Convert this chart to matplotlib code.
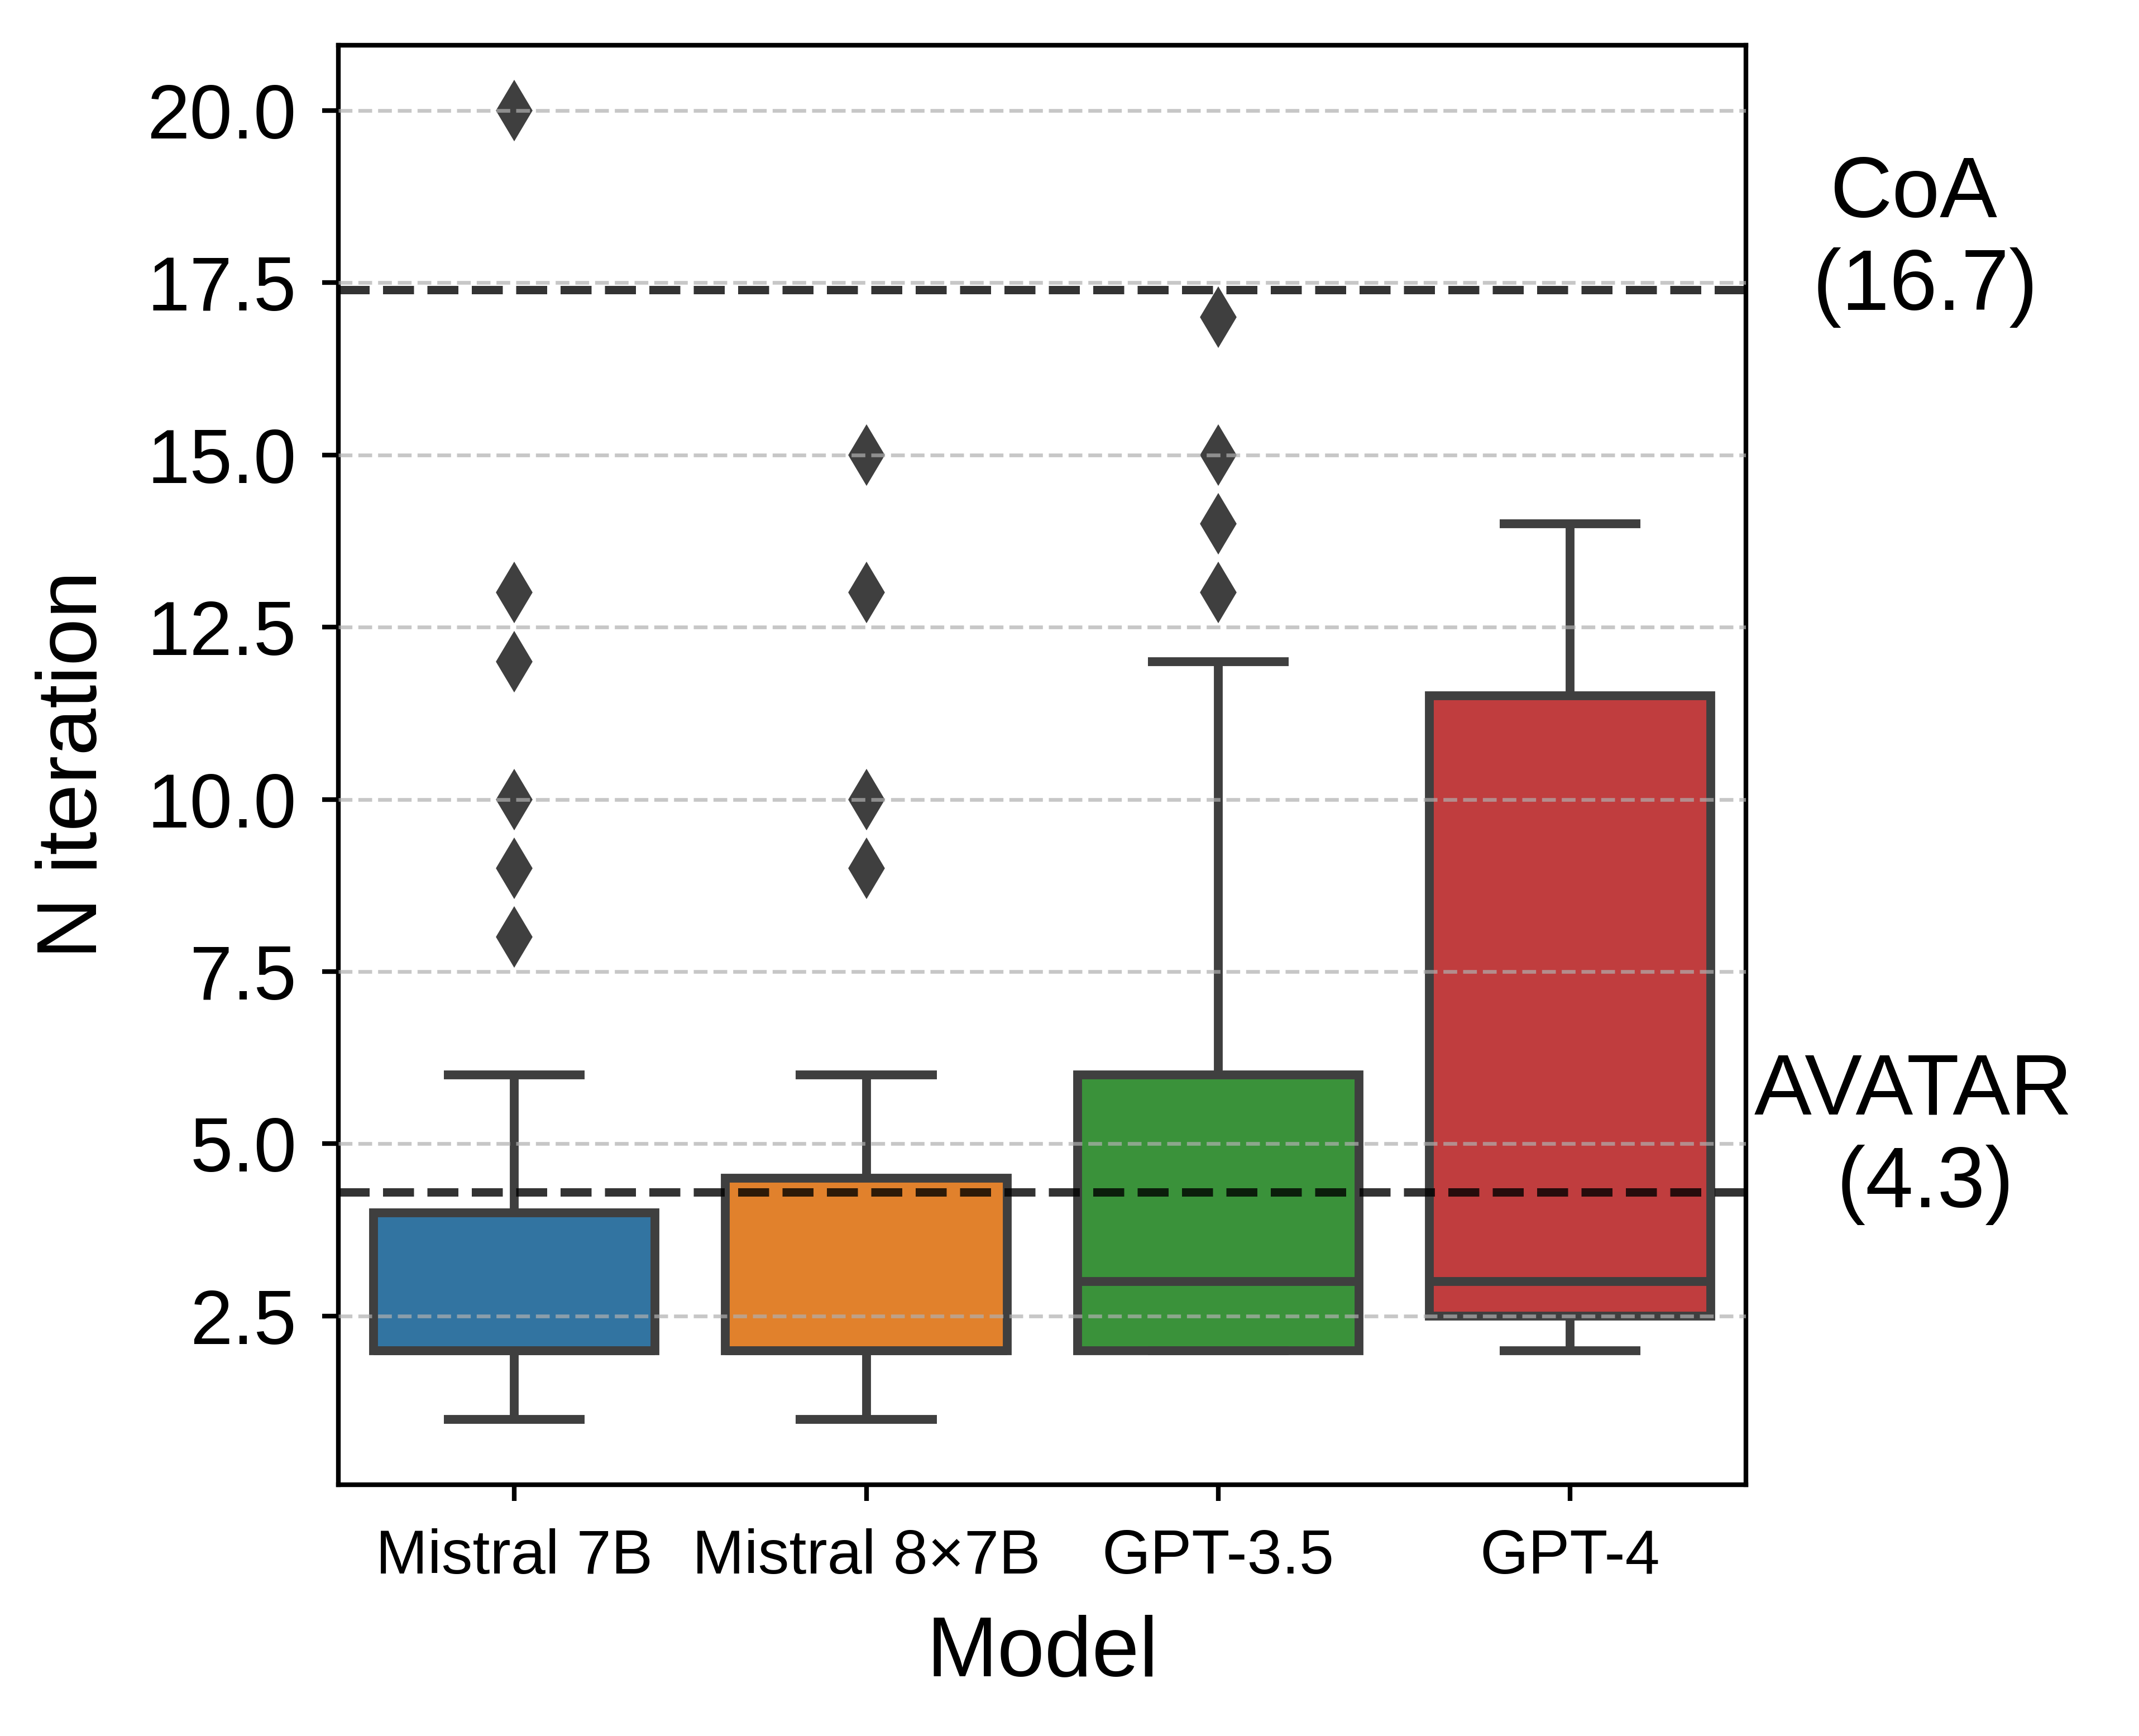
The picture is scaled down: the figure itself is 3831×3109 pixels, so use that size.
import matplotlib
matplotlib.use("Agg")
import matplotlib.pyplot as plt

plt.rcParams['font.family'] = ['Liberation Sans', 'DejaVu Sans']

# ---- data ----
models = ["Mistral 7B", "Mistral 8×7B", "GPT-3.5", "GPT-4"]
whislo = [1, 1, 2, 2]
q1 = [2, 2, 2, 2.5]
med = [2, 2, 3, 3]
q3 = [4, 4.5, 6, 11.5]
whishi = [6, 6, 12, 14]
fliers = [[8, 9, 10, 12, 13, 20], [9, 10, 13, 15], [13, 14, 15, 17], []]
colors = ["#3274a1", "#e1812c", "#3a923a", "#c03d3e"]
yticks = [2.5, 5.0, 7.5, 10.0, 12.5, 15.0, 17.5, 20.0]
ref_names = ["CoA", "AVATAR"]
ref_labels = ["16.7", "4.3"]
ref_lines = [17.4, 4.3]
ref_text_y = [18.1, 5.08]

fig = plt.figure(figsize=(3831 / 600, 3109 / 600), dpi=600)
ax = fig.add_axes([0.1582, 0.1447, 0.6581, 0.8294])

stats = []
for i in range(len(models)):
    stats.append(dict(label=models[i], whislo=whislo[i], q1=q1[i], med=med[i],
                      q3=q3[i], whishi=whishi[i], fliers=fliers[i]))

gray = "#3f3f3f"
lw = 1.9
bp = ax.bxp(stats, positions=range(len(models)), widths=0.8, patch_artist=True,
            showfliers=True,
            boxprops=dict(edgecolor=gray, linewidth=lw),
            whiskerprops=dict(color=gray, linewidth=lw, solid_capstyle='butt'),
            capprops=dict(color=gray, linewidth=lw, solid_capstyle='butt'),
            medianprops=dict(color=gray, linewidth=lw, solid_capstyle='butt'),
            flierprops=dict(marker='d', markerfacecolor=gray, markeredgecolor=gray,
                            markersize=8, linestyle='none'),
            zorder=2)
for patch, c in zip(bp['boxes'], colors):
    patch.set_facecolor(c)

# reference lines
for y in ref_lines:
    ax.axhline(y, color='black', alpha=0.8, linestyle='--', linewidth=1.8, zorder=4)

for name, lab, ty in zip(ref_names, ref_labels, ref_text_y):
    ax.text(3.975, ty, f"{name}\n ({lab})", ha='center', va='center',
            multialignment='center', fontsize=18.5, clip_on=False)

ax.set_xlim(-0.5, 3.5)
ax.set_ylim(0.05, 20.95)
ax.set_yticks(yticks)
ax.set_yticklabels([f"{v:.1f}" for v in yticks], fontsize=16.5)
ax.set_xticks(range(len(models)))
ax.set_xticklabels(models, fontsize=13.4)
ax.yaxis.grid(True, color='#b0b0b0', alpha=0.7, linestyle='--', linewidth=0.8, zorder=3)
ax.set_axisbelow(False)
ax.set_xlabel("Model", fontsize=18.3, labelpad=6)
ax.set_ylabel("N iteration", fontsize=18.3, labelpad=7)
for s in ax.spines.values():
    s.set_linewidth(1.0)
ax.tick_params(width=1.0, length=3.5)
ax.tick_params(axis='y', pad=5.5)
ax.tick_params(axis='x', pad=5.8)

fig.savefig("out.png", dpi=600)
